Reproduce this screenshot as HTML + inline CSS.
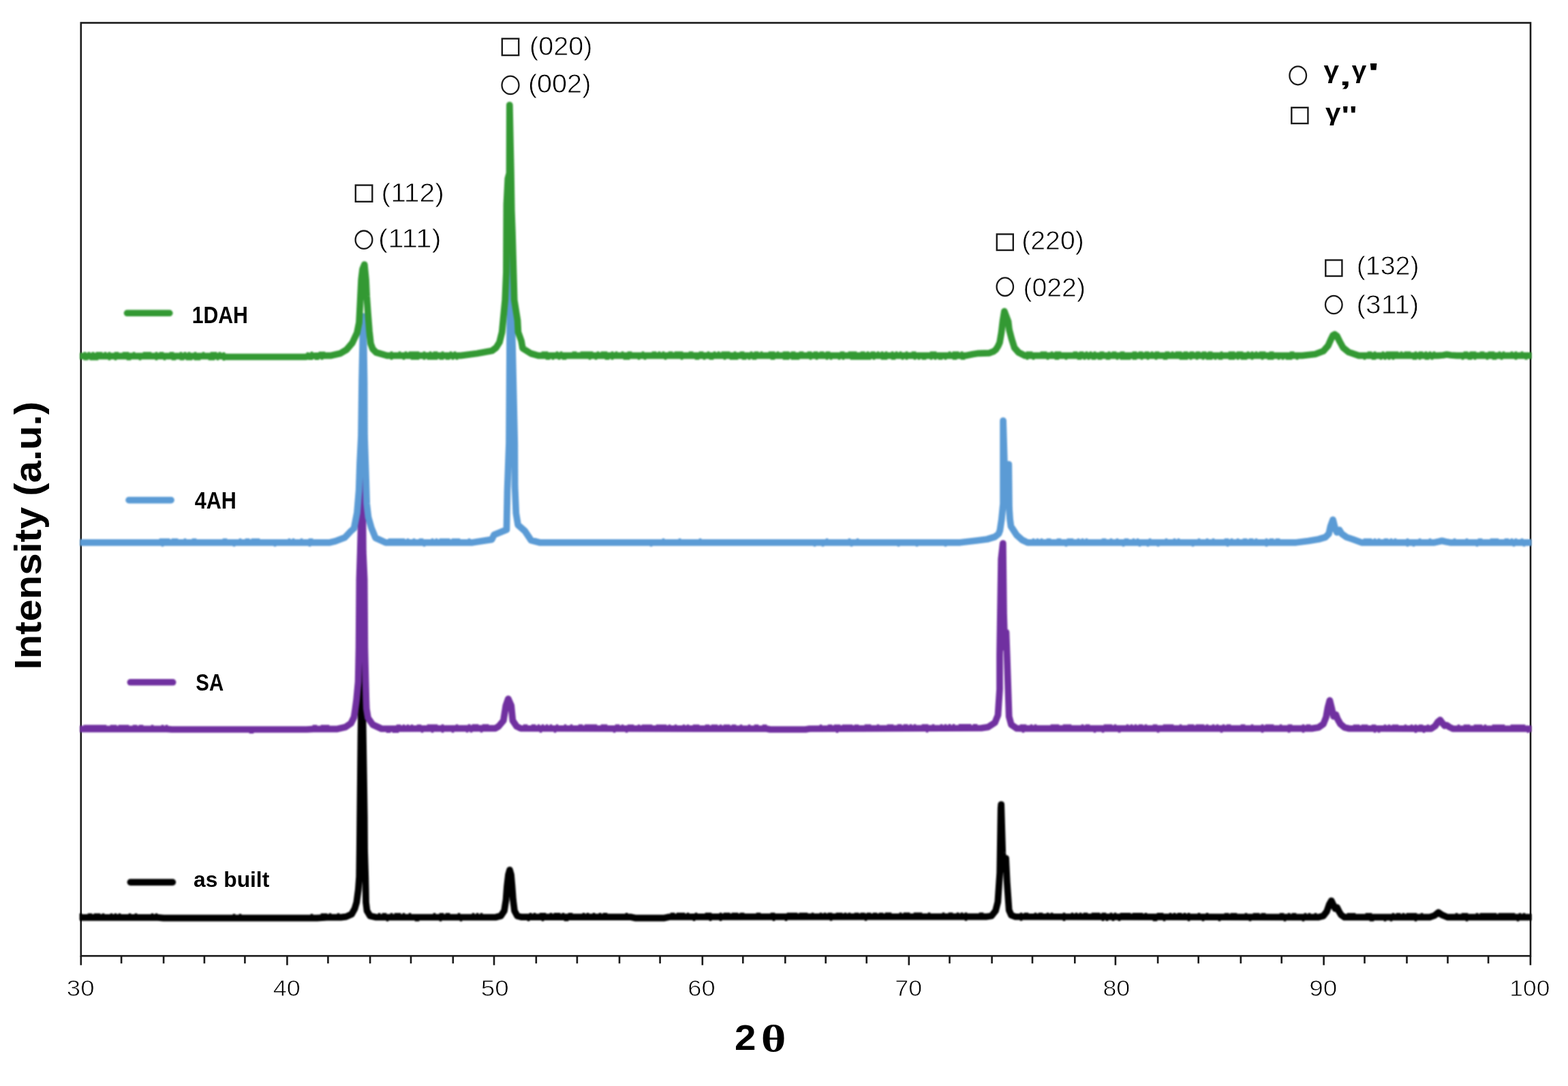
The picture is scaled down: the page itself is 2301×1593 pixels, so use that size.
<!DOCTYPE html>
<html lang="en">
<head>
<meta charset="utf-8">
<title>XRD patterns</title>
<style>
html,body{margin:0;padding:0;background:#fff;}
body{width:2301px;height:1593px;overflow:hidden;}
svg{display:block;}
text{fill:#000;}
</style>
</head>
<body>
<svg xmlns="http://www.w3.org/2000/svg" width="2301" height="1593" viewBox="0 0 2301 1593">
<defs><filter id="soft" color-interpolation-filters="sRGB" x="0" y="0" width="2301" height="1593" filterUnits="userSpaceOnUse"><feGaussianBlur stdDeviation="0.80"/></filter></defs>
<rect x="0" y="0" width="2301" height="1593" fill="#ffffff"/>
<g stroke="#1a1a1a" stroke-width="2.6" fill="none">
<rect x="118.8" y="33.5" width="2127.2" height="1368.7"/>
<path d="M118.8 1402.2 V1415.8 M178.1 1402.2 V1413.2 M240.1 1402.2 V1413.2 M299.9 1402.2 V1413.2 M359.4 1402.2 V1413.2 M421.4 1402.2 V1415.8 M481.4 1402.2 V1413.2 M543.1 1402.2 V1413.2 M603.0 1402.2 V1413.2 M664.8 1402.2 V1413.2 M725.0 1402.2 V1415.8 M786.8 1402.2 V1413.2 M846.9 1402.2 V1413.2 M909.0 1402.2 V1413.2 M968.6 1402.2 V1413.2 M1030.8 1402.2 V1415.8 M1090.3 1402.2 V1413.2 M1152.3 1402.2 V1413.2 M1211.7 1402.2 V1413.2 M1271.7 1402.2 V1413.2 M1333.8 1402.2 V1415.8 M1393.5 1402.2 V1413.2 M1455.6 1402.2 V1413.2 M1515.0 1402.2 V1413.2 M1577.3 1402.2 V1413.2 M1636.9 1402.2 V1415.8 M1699.1 1402.2 V1413.2 M1758.7 1402.2 V1413.2 M1820.8 1402.2 V1413.2 M1880.7 1402.2 V1413.2 M1942.6 1402.2 V1415.8 M2002.5 1402.2 V1413.2 M2064.5 1402.2 V1413.2 M2124.5 1402.2 V1413.2 M2184.1 1402.2 V1413.2 M2245.9 1402.2 V1415.8"/>
</g>
<g fill="none" stroke-width="9.7" stroke-linejoin="round" stroke-linecap="butt" filter="url(#soft)">
<path stroke="#000000" d="M117.2 1345.8 L232.0 1345.8 L240.0 1346.6 L465.0 1346.6 L480.0 1345.6 L500.0 1345.6 L508.0 1344.6 L516.0 1341.0 L520.5 1333.0 L523.3 1323.7 L525.8 1305.0 L527.2 1286.0 L527.7 1248.0 L528.2 1200.0 L528.9 1135.0 L529.5 1079.0 L531.2 972.0 L532.9 1079.0 L533.8 1135.0 L534.8 1200.0 L535.1 1248.0 L536.3 1286.0 L536.7 1305.0 L537.0 1323.7 L538.5 1336.0 L543.0 1343.5 L552.0 1345.5 L728.0 1345.3 L735.0 1343.5 L740.0 1336.0 L742.5 1320.0 L744.0 1300.0 L746.0 1283.0 L748.0 1276.0 L750.0 1283.0 L751.5 1300.0 L753.0 1320.0 L755.0 1336.0 L759.0 1343.5 L765.0 1345.2 L925.0 1345.0 L932.0 1346.6 L975.0 1346.6 L982.0 1345.0 L1400.0 1344.6 L1447.0 1344.7 L1455.0 1343.5 L1461.0 1336.0 L1464.3 1323.0 L1467.2 1280.0 L1468.7 1186.0 L1469.2 1180.0 L1471.3 1251.0 L1473.0 1275.0 L1476.1 1259.0 L1477.8 1294.0 L1480.7 1335.0 L1484.0 1342.5 L1490.0 1344.7 L1900.0 1345.4 L1935.0 1345.4 L1942.0 1343.5 L1947.0 1337.0 L1950.5 1327.0 L1953.8 1321.3 L1957.0 1328.0 L1959.5 1333.0 L1962.0 1331.0 L1965.0 1337.0 L1968.0 1342.0 L1973.0 1345.4 L2098.0 1345.4 L2105.0 1343.0 L2110.9 1338.4 L2116.0 1342.0 L2124.0 1345.4 L2247.5 1345.4"/>
<path stroke="#000000" d="M116.7 1344.5H120.3M128.7 1344.5H135.3M137.7 1344.5H147.3M149.7 1344.5H153.3M161.7 1344.5H165.3M167.7 1344.5H171.3M173.7 1344.5H177.3M188.7 1344.5H192.3M197.7 1344.5H201.3M221.7 1344.5H225.3M227.7 1344.5H231.3M341.7 1345.3H345.3M350.7 1345.3H354.3M455.7 1345.3H459.3M470.7 1344.6H480.3M482.7 1344.3H486.3M494.7 1344.3H498.3M554.7 1344.2H558.3M560.7 1344.2H567.3M572.7 1344.2H576.3M578.7 1344.2H588.3M590.7 1344.2H594.3M599.7 1344.2H603.3M635.7 1344.1H639.3M644.7 1344.1H651.3M653.7 1344.1H660.3M671.7 1344.1H675.3M692.7 1344.1H696.3M698.7 1344.1H702.3M704.7 1344.0H708.3M776.7 1343.9H780.3M782.7 1343.9H786.3M791.7 1343.9H801.3M806.7 1343.9H810.3M812.7 1343.9H822.3M824.7 1343.9H828.3M833.7 1343.9H840.3M854.7 1343.8H858.3M860.7 1343.8H864.3M869.7 1343.8H873.3M878.7 1343.8H882.3M884.7 1343.8H891.3M917.7 1343.8H921.3M983.7 1343.7H990.3M992.7 1343.7H1005.3M1007.7 1343.7H1011.3M1019.7 1343.7H1023.3M1034.7 1343.7H1044.3M1055.7 1343.7H1059.3M1061.7 1343.7H1071.3M1073.7 1343.7H1083.3M1085.7 1343.6H1092.3M1109.7 1343.6H1116.3M1130.7 1343.6H1137.3M1154.7 1343.6H1170.3M1172.7 1343.6H1185.3M1190.7 1343.5H1194.3M1202.7 1343.5H1206.3M1208.7 1343.5H1212.3M1214.7 1343.5H1221.3M1226.7 1343.5H1236.3M1238.7 1343.5H1242.3M1244.7 1343.5H1248.3M1253.7 1343.5H1260.3M1262.7 1343.5H1269.3M1271.7 1343.5H1278.3M1280.7 1343.5H1287.3M1289.7 1343.5H1296.3M1298.7 1343.4H1308.3M1319.7 1343.4H1323.3M1325.7 1343.4H1335.3M1340.7 1343.4H1353.3M1361.7 1343.4H1365.3M1382.7 1343.4H1386.3M1391.7 1343.4H1398.3M1403.7 1343.4H1407.3M1409.7 1343.4H1413.3M1415.7 1343.4H1419.3M1436.7 1343.4H1443.3M1496.7 1343.5H1500.3M1502.7 1343.5H1509.3M1517.7 1343.5H1521.3M1523.7 1343.6H1530.3M1535.7 1343.6H1539.3M1541.7 1343.6H1545.3M1559.7 1343.6H1563.3M1571.7 1343.6H1575.3M1577.7 1343.6H1581.3M1583.7 1343.6H1587.3M1589.7 1343.7H1596.3M1601.7 1343.7H1614.3M1616.7 1343.7H1623.3M1628.7 1343.7H1632.3M1634.7 1343.7H1638.3M1643.7 1343.8H1659.3M1661.7 1343.8H1677.3M1679.7 1343.8H1683.3M1697.7 1343.8H1707.3M1715.7 1343.9H1719.3M1721.7 1343.9H1725.3M1727.7 1343.9H1734.3M1736.7 1343.9H1740.3M1742.7 1343.9H1746.3M1757.7 1343.9H1761.3M1769.7 1343.9H1773.3M1796.7 1344.0H1803.3M1805.7 1344.0H1815.3M1826.7 1344.0H1830.3M1838.7 1344.1H1848.3M1850.7 1344.1H1857.3M1877.7 1344.1H1884.3M1889.7 1344.1H1893.3M1895.7 1344.1H1902.3M1913.7 1344.2H1917.3M1919.7 1344.2H1923.3M1928.7 1344.2H1932.3M1976.7 1344.2H1989.3M2003.7 1344.2H2013.3M2042.7 1344.2H2046.3M2048.7 1344.2H2055.3M2057.7 1344.2H2061.3M2063.7 1344.2H2079.3M2084.7 1344.2H2088.3M2135.7 1344.2H2139.3M2144.7 1344.2H2154.3M2165.7 1344.2H2169.3M2171.7 1344.2H2196.3M2198.7 1344.2H2223.3M2228.7 1344.2H2232.3M2234.7 1344.2H2238.3M566.7 1346.7H570.3M608.7 1346.7H615.3M644.7 1346.6H648.3M674.7 1346.6H678.3M773.7 1346.5H777.3M794.7 1346.4H798.3M827.7 1346.4H834.3M1016.7 1346.2H1020.3M1040.7 1346.2H1044.3M1055.7 1346.2H1059.3M1133.7 1346.1H1137.3M1151.7 1346.1H1155.3M1217.7 1346.0H1221.3M1268.7 1346.0H1272.3M1415.7 1345.9H1419.3M1496.7 1346.0H1500.3M1559.7 1346.1H1563.3M1616.7 1346.2H1620.3M1622.7 1346.2H1626.3M1631.7 1346.2H1635.3M1640.7 1346.2H1644.3M1691.7 1346.3H1698.3M1706.7 1346.3H1710.3M1742.7 1346.4H1746.3M1763.7 1346.4H1767.3M1787.7 1346.5H1791.3M1832.7 1346.5H1836.3M1883.7 1346.6H1887.3M1910.7 1346.7H1914.3M2009.7 1346.7H2016.3M2030.7 1346.7H2034.3M2039.7 1346.7H2043.3M2075.7 1346.7H2079.3M2150.7 1346.7H2154.3M2225.7 1346.7H2229.3"/>
<path stroke="#7030a0" d="M117.2 1069.4 L245.0 1069.4 L252.0 1070.0 L450.0 1070.0 L460.0 1069.4 L495.0 1069.3 L507.0 1066.5 L515.0 1061.0 L519.5 1052.0 L521.4 1039.5 L523.2 1026.0 L525.6 1000.0 L526.6 950.0 L527.4 850.0 L528.7 810.0 L531.8 693.0 L532.9 810.0 L534.7 850.0 L535.4 950.0 L536.6 1000.0 L537.3 1026.0 L537.8 1039.5 L540.0 1053.0 L547.0 1063.0 L560.0 1069.0 L700.0 1068.4 L726.9 1068.4 L731.7 1065.5 L738.8 1057.0 L742.3 1035.0 L745.8 1025.0 L750.2 1035.0 L752.4 1057.0 L758.1 1065.5 L764.2 1068.5 L1125.0 1069.0 L1130.0 1070.0 L1182.0 1070.0 L1188.0 1069.0 L1440.0 1068.0 L1450.0 1066.5 L1460.0 1060.0 L1464.5 1049.0 L1467.0 1011.0 L1467.0 960.0 L1469.2 820.0 L1471.8 797.0 L1473.0 900.0 L1474.5 950.0 L1476.5 927.5 L1477.7 960.0 L1480.7 1051.0 L1484.0 1063.0 L1492.0 1068.5 L1500.0 1068.6 L1900.0 1068.6 L1925.0 1068.6 L1935.0 1067.0 L1942.0 1062.0 L1946.0 1052.0 L1948.5 1038.0 L1951.4 1027.4 L1954.5 1040.0 L1957.0 1051.0 L1960.4 1048.3 L1963.0 1055.0 L1967.0 1062.0 L1973.0 1067.0 L1980.0 1068.7 L2100.0 1068.8 L2106.0 1065.0 L2110.0 1059.0 L2113.4 1056.1 L2117.0 1061.0 L2120.0 1064.5 L2123.0 1063.8 L2127.0 1066.5 L2132.0 1068.9 L2247.5 1069.0"/>
<path stroke="#7030a0" d="M122.7 1068.2H156.3M161.7 1068.2H171.3M173.7 1068.2H189.3M194.7 1068.2H201.3M203.7 1068.2H210.3M221.7 1068.2H225.3M236.7 1068.2H240.3M242.7 1068.2H246.3M458.7 1068.1H465.3M470.7 1068.1H483.3M581.7 1067.6H588.3M590.7 1067.6H594.3M596.7 1067.6H600.3M602.7 1067.5H606.3M611.7 1067.5H618.3M626.7 1067.4H642.3M647.7 1067.4H651.3M668.7 1067.3H672.3M686.7 1067.2H690.3M692.7 1067.2H702.3M707.7 1067.2H717.3M767.7 1067.3H774.3M779.7 1067.3H786.3M788.7 1067.3H792.3M794.7 1067.3H798.3M800.7 1067.3H804.3M806.7 1067.3H810.3M815.7 1067.3H819.3M827.7 1067.3H831.3M836.7 1067.3H840.3M848.7 1067.4H855.3M857.7 1067.4H876.3M881.7 1067.4H891.3M902.7 1067.4H909.3M911.7 1067.5H915.3M920.7 1067.5H930.3M935.7 1067.5H939.3M941.7 1067.5H957.3M962.7 1067.5H978.3M980.7 1067.5H984.3M989.7 1067.6H993.3M1001.7 1067.6H1005.3M1007.7 1067.6H1011.3M1016.7 1067.6H1026.3M1034.7 1067.6H1041.3M1043.7 1067.6H1053.3M1055.7 1067.7H1059.3M1061.7 1067.7H1071.3M1073.7 1067.7H1080.3M1085.7 1067.7H1089.3M1097.7 1067.7H1101.3M1106.7 1067.7H1113.3M1118.7 1067.7H1125.3M1202.7 1067.7H1206.3M1214.7 1067.6H1221.3M1223.7 1067.6H1233.3M1235.7 1067.5H1251.3M1253.7 1067.5H1260.3M1268.7 1067.4H1278.3M1286.7 1067.4H1290.3M1301.7 1067.3H1311.3M1316.7 1067.2H1323.3M1325.7 1067.2H1332.3M1334.7 1067.2H1338.3M1340.7 1067.1H1344.3M1352.7 1067.1H1362.3M1367.7 1067.0H1371.3M1379.7 1067.0H1383.3M1385.7 1067.0H1389.3M1391.7 1066.9H1395.3M1397.7 1066.9H1401.3M1406.7 1066.8H1425.3M1427.7 1066.8H1434.3M1496.7 1067.3H1506.3M1511.7 1067.3H1515.3M1517.7 1067.3H1521.3M1541.7 1067.3H1554.3M1559.7 1067.3H1572.3M1586.7 1067.3H1590.3M1592.7 1067.3H1599.3M1619.7 1067.3H1632.3M1634.7 1067.3H1638.3M1652.7 1067.3H1656.3M1658.7 1067.3H1662.3M1664.7 1067.3H1668.3M1670.7 1067.3H1677.3M1679.7 1067.3H1683.3M1691.7 1067.3H1698.3M1706.7 1067.3H1722.3M1730.7 1067.3H1734.3M1742.7 1067.3H1752.3M1754.7 1067.3H1767.3M1769.7 1067.3H1773.3M1778.7 1067.3H1782.3M1784.7 1067.3H1788.3M1793.7 1067.3H1797.3M1799.7 1067.3H1806.3M1820.7 1067.3H1827.3M1835.7 1067.3H1839.3M1850.7 1067.3H1854.3M1856.7 1067.3H1869.3M1877.7 1067.3H1881.3M1889.7 1067.3H1896.3M1910.7 1067.4H1914.3M1916.7 1067.4H1923.3M1985.7 1067.5H1995.3M1997.7 1067.5H2007.3M2012.7 1067.5H2019.3M2030.7 1067.5H2034.3M2036.7 1067.5H2040.3M2042.7 1067.5H2052.3M2060.7 1067.5H2064.3M2069.7 1067.5H2073.3M2075.7 1067.6H2079.3M2081.7 1067.6H2088.3M2093.7 1067.6H2097.3M2138.7 1067.6H2142.3M2147.7 1067.6H2157.3M2162.7 1067.7H2175.3M2177.7 1067.7H2181.3M2189.7 1067.7H2208.3M2216.7 1067.7H2238.3M365.7 1071.2H372.3M566.7 1070.2H573.3M575.7 1070.1H585.3M617.7 1070.0H621.3M632.7 1069.9H636.3M647.7 1069.9H651.3M662.7 1069.8H666.3M683.7 1069.7H687.3M689.7 1069.7H693.3M704.7 1069.7H708.3M791.7 1069.8H795.3M812.7 1069.8H816.3M899.7 1069.9H903.3M917.7 1070.0H921.3M1226.7 1070.1H1230.3M1358.7 1069.6H1362.3M1499.7 1069.8H1503.3M1604.7 1069.8H1608.3M1616.7 1069.8H1620.3M1640.7 1069.8H1644.3M1697.7 1069.8H1701.3M1790.7 1069.8H1794.3M1850.7 1069.8H1854.3M1889.7 1069.8H1893.3M1910.7 1069.9H1914.3M2015.7 1070.0H2019.3M2021.7 1070.0H2025.3M2075.7 1070.1H2079.3M2087.7 1070.1H2091.3M2240.7 1070.2H2244.3"/>
<path stroke="#5b9bd5" d="M117.2 795.8 L484.0 795.8 L492.3 793.8 L506.0 788.5 L515.0 779.0 L519.5 775.0 L524.0 752.0 L526.7 719.0 L528.0 679.5 L530.0 640.0 L531.0 560.0 L533.0 464.0 L534.6 560.0 L535.0 640.0 L537.0 699.0 L538.2 739.0 L540.5 758.6 L545.0 774.4 L551.0 789.0 L566.0 795.8 L693.4 795.8 L721.7 791.4 L725.0 784.6 L743.4 777.0 L744.5 719.0 L747.0 650.0 L748.0 500.0 L749.5 345.0 L751.9 500.0 L755.3 650.0 L755.6 713.4 L757.3 753.0 L760.1 770.0 L770.3 779.0 L779.3 792.5 L791.8 795.8 L1409.0 795.8 L1432.8 793.0 L1448.5 791.0 L1460.0 787.5 L1465.5 783.0 L1467.4 778.0 L1469.8 762.0 L1471.3 747.0 L1472.1 739.0 L1472.1 617.0 L1475.5 730.0 L1480.3 681.0 L1481.0 745.0 L1482.1 762.0 L1483.5 772.0 L1492.0 785.0 L1500.0 792.0 L1508.0 795.8 L1902.0 795.8 L1920.0 793.5 L1935.0 791.0 L1945.0 788.0 L1950.0 783.0 L1952.5 772.0 L1956.0 762.3 L1959.5 776.0 L1962.0 781.0 L1965.6 777.4 L1969.0 783.0 L1976.0 788.0 L1985.0 791.0 L1998.0 795.8 L2105.0 795.8 L2112.0 794.3 L2116.0 793.3 L2121.0 794.5 L2128.0 795.8 L2247.5 795.8"/>
<path stroke="#5b9bd5" d="M233.7 794.5H249.3M251.7 794.5H261.3M269.7 794.5H273.3M281.7 794.5H288.3M326.7 794.5H333.3M350.7 794.5H354.3M359.7 794.5H366.3M368.7 794.5H381.3M422.7 794.5H426.3M428.7 794.5H432.3M440.7 794.5H444.3M452.7 794.5H459.3M569.7 794.5H594.3M596.7 794.5H600.3M605.7 794.5H609.3M614.7 794.5H621.3M632.7 794.5H636.3M638.7 794.5H642.3M644.7 794.5H660.3M662.7 794.5H675.3M686.7 794.5H690.3M971.7 794.5H975.3M995.7 794.5H999.3M1025.7 794.5H1029.3M1211.7 794.5H1215.3M1244.7 794.5H1248.3M1256.7 794.5H1260.3M1514.7 794.5H1518.3M1520.7 794.5H1524.3M1526.7 794.5H1530.3M1535.7 794.5H1542.3M1550.7 794.5H1557.3M1565.7 794.5H1575.3M1580.7 794.5H1584.3M1586.7 794.5H1590.3M1592.7 794.5H1596.3M1616.7 794.5H1623.3M1628.7 794.5H1632.3M1637.7 794.5H1641.3M1649.7 794.5H1656.3M1661.7 794.5H1665.3M1667.7 794.5H1671.3M1685.7 794.5H1689.3M1709.7 794.5H1713.3M1721.7 794.5H1725.3M1727.7 794.5H1731.3M1757.7 794.5H1761.3M1769.7 794.5H1773.3M1778.7 794.5H1782.3M1796.7 794.5H1803.3M1805.7 794.5H1809.3M1814.7 794.5H1818.3M1823.7 794.5H1830.3M1832.7 794.5H1839.3M1841.7 794.5H1845.3M1856.7 794.5H1860.3M1862.7 794.5H1869.3M1871.7 794.5H1878.3M2000.7 794.5H2013.3M2015.7 794.5H2019.3M2021.7 794.5H2025.3M2030.7 794.5H2037.3M2039.7 794.5H2043.3M2045.7 794.5H2049.3M2063.7 794.5H2067.3M2081.7 794.5H2085.3M2096.7 794.5H2100.3M2132.7 794.5H2136.3M2150.7 794.5H2154.3M2168.7 794.5H2175.3M2186.7 794.5H2199.3M2207.7 794.5H2214.3M2216.7 794.5H2220.3M2222.7 794.5H2226.3M2231.7 794.5H2235.3M236.7 797.0H240.3M341.7 797.0H345.3M401.7 797.0H405.3M452.7 797.0H456.3M620.7 797.0H624.3M953.7 797.0H957.3M1193.7 797.0H1197.3M1205.7 797.0H1209.3M1247.7 797.0H1251.3M1316.7 797.0H1320.3M1343.7 797.0H1347.3M1385.7 797.0H1389.3M1562.7 797.0H1566.3M1646.7 797.0H1650.3M1670.7 797.0H1674.3M1682.7 797.0H1686.3M1697.7 797.0H1701.3M1748.7 797.0H1752.3M1799.7 797.0H1803.3M1856.7 797.0H1860.3M2063.7 797.0H2067.3M2072.7 797.0H2076.3M2165.7 797.0H2169.3M2219.7 797.0H2223.3M2234.7 797.0H2238.3"/>
<path stroke="#339933" d="M117.2 522.4 L325.0 522.4 L332.0 523.5 L448.0 523.5 L456.0 522.0 L480.0 521.6 L486.0 521.6 L499.0 518.6 L508.5 513.0 L517.0 503.0 L524.0 488.0 L527.0 473.0 L528.3 448.0 L530.2 410.0 L532.0 395.0 L534.8 388.0 L537.0 410.0 L538.2 435.0 L540.0 460.0 L542.0 485.5 L544.0 504.0 L547.0 512.0 L552.0 517.0 L568.0 521.6 L676.0 521.6 L700.0 518.5 L722.0 514.5 L728.0 510.0 L733.0 502.0 L736.7 487.0 L738.3 470.0 L741.2 440.0 L742.9 400.0 L743.4 300.0 L745.3 262.0 L747.5 254.0 L747.8 154.0 L749.9 253.0 L750.8 310.0 L751.9 340.0 L753.6 400.0 L754.7 440.0 L759.5 470.0 L760.4 487.0 L765.0 500.0 L767.0 511.0 L779.0 518.5 L790.0 521.6 L1418.0 521.6 L1428.0 519.5 L1436.0 518.3 L1452.0 517.8 L1458.0 515.5 L1461.5 512.7 L1464.5 508.0 L1467.0 502.5 L1469.5 488.0 L1471.6 470.5 L1473.9 456.6 L1479.6 471.7 L1481.0 483.5 L1484.6 497.3 L1488.6 510.0 L1494.5 516.8 L1504.0 521.6 L1911.0 521.6 L1930.0 519.5 L1942.0 515.0 L1949.0 507.0 L1953.0 498.0 L1956.0 492.0 L1958.6 490.5 L1962.0 493.0 L1966.0 501.0 L1971.0 510.0 L1979.0 516.5 L1994.0 521.6 L2110.0 521.6 L2118.0 521.0 L2123.0 520.0 L2129.0 521.0 L2138.0 521.6 L2247.5 521.6"/>
<path stroke="#339933" d="M122.7 521.1H126.3M128.7 521.1H132.3M134.7 521.1H138.3M140.7 521.1H150.3M152.7 521.1H156.3M158.7 521.1H162.3M167.7 521.1H174.3M179.7 521.1H189.3M194.7 521.1H198.3M209.7 521.1H222.3M227.7 521.1H231.3M233.7 521.1H240.3M248.7 521.1H255.3M263.7 521.1H267.3M269.7 521.1H273.3M275.7 521.1H279.3M284.7 521.1H288.3M296.7 521.1H300.3M308.7 521.1H318.3M320.7 521.1H324.3M326.7 521.7H330.3M449.7 521.6H453.3M455.7 520.7H459.3M467.7 520.5H477.3M572.7 520.4H576.3M584.7 520.4H588.3M593.7 520.4H597.3M599.7 520.4H615.3M620.7 520.4H624.3M629.7 520.4H633.3M635.7 520.4H642.3M647.7 520.4H651.3M659.7 520.4H663.3M665.7 520.4H669.3M794.7 520.4H804.3M815.7 520.4H819.3M821.7 520.4H825.3M839.7 520.4H846.3M851.7 520.4H870.3M875.7 520.4H879.3M881.7 520.4H891.3M896.7 520.4H900.3M902.7 520.4H906.3M911.7 520.4H915.3M920.7 520.4H927.3M941.7 520.4H945.3M956.7 520.4H963.3M965.7 520.4H969.3M971.7 520.4H975.3M980.7 520.4H987.3M989.7 520.4H1002.3M1010.7 520.4H1017.3M1025.7 520.4H1032.3M1037.7 520.4H1041.3M1046.7 520.4H1050.3M1052.7 520.4H1056.3M1058.7 520.4H1071.3M1076.7 520.4H1080.3M1085.7 520.4H1092.3M1100.7 520.4H1104.3M1106.7 520.4H1113.3M1115.7 520.4H1119.3M1127.7 520.4H1137.3M1139.7 520.4H1143.3M1148.7 520.4H1158.3M1160.7 520.4H1167.3M1172.7 520.4H1179.3M1184.7 520.4H1191.3M1193.7 520.4H1200.3M1202.7 520.4H1209.3M1211.7 520.4H1218.3M1232.7 520.4H1239.3M1244.7 520.4H1257.3M1262.7 520.4H1269.3M1271.7 520.4H1275.3M1277.7 520.4H1284.3M1286.7 520.4H1290.3M1292.7 520.4H1296.3M1298.7 520.4H1302.3M1307.7 520.4H1311.3M1313.7 520.4H1317.3M1319.7 520.4H1323.3M1328.7 520.4H1332.3M1337.7 520.4H1344.3M1364.7 520.4H1374.3M1391.7 520.4H1395.3M1397.7 520.4H1407.3M1409.7 520.4H1413.3M1505.7 520.4H1515.3M1526.7 520.4H1536.3M1541.7 520.4H1545.3M1547.7 520.4H1557.3M1574.7 520.4H1581.3M1583.7 520.4H1590.3M1592.7 520.4H1596.3M1598.7 520.4H1602.3M1604.7 520.4H1608.3M1613.7 520.4H1620.3M1625.7 520.4H1629.3M1631.7 520.4H1638.3M1643.7 520.4H1650.3M1661.7 520.4H1668.3M1670.7 520.4H1677.3M1679.7 520.4H1686.3M1688.7 520.4H1692.3M1694.7 520.4H1701.3M1709.7 520.4H1716.3M1718.7 520.4H1722.3M1724.7 520.4H1734.3M1736.7 520.4H1743.3M1745.7 520.4H1752.3M1754.7 520.4H1761.3M1763.7 520.4H1770.3M1772.7 520.4H1779.3M1790.7 520.4H1794.3M1802.7 520.4H1812.3M1814.7 520.4H1824.3M1829.7 520.4H1833.3M1835.7 520.4H1839.3M1841.7 520.4H1845.3M1847.7 520.4H1857.3M1862.7 520.4H1869.3M1892.7 520.4H1899.3M2006.7 520.4H2013.3M2015.7 520.4H2019.3M2027.7 520.4H2031.3M2033.7 520.4H2052.3M2054.7 520.4H2058.3M2060.7 520.4H2070.3M2075.7 520.4H2079.3M2081.7 520.4H2088.3M2090.7 520.4H2094.3M2096.7 520.4H2100.3M2102.7 520.4H2106.3M2147.7 520.4H2154.3M2156.7 520.4H2166.3M2171.7 520.4H2178.3M2183.7 520.4H2193.3M2198.7 520.4H2202.3M2204.7 520.4H2208.3M2216.7 520.4H2220.3M2222.7 520.4H2226.3M2231.7 520.4H2235.3M122.7 523.6H129.3M131.7 523.6H144.3M158.7 523.6H162.3M167.7 523.6H171.3M185.7 523.6H192.3M203.7 523.6H207.3M227.7 523.6H231.3M239.7 523.6H243.3M251.7 523.6H258.3M263.7 523.6H270.3M272.7 523.6H282.3M284.7 523.6H294.3M305.7 523.6H315.3M317.7 523.6H321.3M326.7 524.2H330.3M452.7 523.2H459.3M461.7 523.1H468.3M470.7 523.0H474.3M572.7 522.9H576.3M590.7 522.9H594.3M602.7 522.9H615.3M620.7 522.9H624.3M626.7 522.9H642.3M644.7 522.9H651.3M653.7 522.9H660.3M662.7 522.9H666.3M668.7 522.9H672.3M800.7 522.9H807.3M809.7 522.9H813.3M818.7 522.9H822.3M824.7 522.9H831.3M863.7 522.9H867.3M872.7 522.9H876.3M887.7 522.9H894.3M896.7 522.9H900.3M914.7 522.9H924.3M935.7 522.9H939.3M944.7 522.9H948.3M974.7 522.9H978.3M998.7 522.9H1002.3M1019.7 522.9H1026.3M1031.7 522.9H1035.3M1040.7 522.9H1047.3M1061.7 522.9H1065.3M1070.7 522.9H1083.3M1088.7 522.9H1095.3M1097.7 522.9H1101.3M1103.7 522.9H1110.3M1130.7 522.9H1137.3M1148.7 522.9H1158.3M1160.7 522.9H1173.3M1187.7 522.9H1191.3M1196.7 522.9H1200.3M1211.7 522.9H1215.3M1217.7 522.9H1221.3M1229.7 522.9H1233.3M1235.7 522.9H1239.3M1247.7 522.9H1278.3M1280.7 522.9H1284.3M1292.7 522.9H1302.3M1307.7 522.9H1314.3M1322.7 522.9H1326.3M1328.7 522.9H1332.3M1340.7 522.9H1344.3M1346.7 522.9H1350.3M1352.7 522.9H1359.3M1364.7 522.9H1368.3M1370.7 522.9H1374.3M1376.7 522.9H1383.3M1385.7 522.9H1389.3M1397.7 522.9H1404.3M1409.7 522.9H1416.3M1505.7 522.9H1509.3M1514.7 522.9H1518.3M1535.7 522.9H1539.3M1547.7 522.9H1554.3M1562.7 522.9H1566.3M1580.7 522.9H1587.3M1589.7 522.9H1593.3M1595.7 522.9H1599.3M1601.7 522.9H1608.3M1610.7 522.9H1617.3M1622.7 522.9H1629.3M1637.7 522.9H1641.3M1643.7 522.9H1659.3M1661.7 522.9H1668.3M1673.7 522.9H1677.3M1682.7 522.9H1686.3M1694.7 522.9H1698.3M1706.7 522.9H1713.3M1730.7 522.9H1743.3M1745.7 522.9H1749.3M1754.7 522.9H1758.3M1763.7 522.9H1767.3M1769.7 522.9H1779.3M1781.7 522.9H1785.3M1787.7 522.9H1794.3M1802.7 522.9H1812.3M1814.7 522.9H1818.3M1820.7 522.9H1830.3M1835.7 522.9H1839.3M1850.7 522.9H1854.3M1859.7 522.9H1869.3M1874.7 522.9H1878.3M1880.7 522.9H1884.3M1886.7 522.9H1896.3M1901.7 522.9H1905.3M2000.7 522.9H2004.3M2012.7 522.9H2019.3M2024.7 522.9H2028.3M2030.7 522.9H2034.3M2036.7 522.9H2040.3M2042.7 522.9H2046.3M2072.7 522.9H2079.3M2081.7 522.9H2085.3M2090.7 522.9H2097.3M2099.7 522.9H2103.3M2144.7 522.9H2148.3M2153.7 522.9H2160.3M2162.7 522.9H2166.3M2180.7 522.9H2184.3M2189.7 522.9H2196.3M2201.7 522.9H2205.3M2222.7 522.9H2226.3M2237.7 522.9H2241.3"/>
</g>
<rect x="521.8" y="271.6" width="24.5" height="24.2" fill="none" stroke="#1a1a1a" stroke-width="2.4"/>
<ellipse cx="534.0" cy="351.7" rx="12.4" ry="13.2" fill="none" stroke="#1a1a1a" stroke-width="2.3"/>
<rect x="736.8" y="56.7" width="24.4" height="24.4" fill="none" stroke="#1a1a1a" stroke-width="2.4"/>
<ellipse cx="749.0" cy="124.9" rx="12.5" ry="13.3" fill="none" stroke="#1a1a1a" stroke-width="2.3"/>
<rect x="1462.8" y="343.5" width="24.0" height="23.5" fill="none" stroke="#1a1a1a" stroke-width="2.4"/>
<ellipse cx="1474.8" cy="420.7" rx="12.2" ry="13.3" fill="none" stroke="#1a1a1a" stroke-width="2.3"/>
<rect x="1945.3" y="381.5" width="24.1" height="23.5" fill="none" stroke="#1a1a1a" stroke-width="2.4"/>
<ellipse cx="1957.3" cy="447.0" rx="12.3" ry="13.2" fill="none" stroke="#1a1a1a" stroke-width="2.3"/>
<ellipse cx="1904.7" cy="110.8" rx="12.3" ry="13.5" fill="none" stroke="#1a1a1a" stroke-width="2.3"/>
<rect x="1895.3" y="157.8" width="24.1" height="23.3" fill="none" stroke="#1a1a1a" stroke-width="2.4"/>
<g filter="url(#soft)">
<line x1="186.5" y1="459.3" x2="248.8" y2="459.3" stroke="#339933" stroke-width="9.6" stroke-linecap="round"/>
<line x1="189.0" y1="733.6" x2="251.1" y2="733.6" stroke="#5b9bd5" stroke-width="9.6" stroke-linecap="round"/>
<line x1="191.3" y1="1000.8" x2="253.7" y2="1000.8" stroke="#7030a0" stroke-width="9.6" stroke-linecap="round"/>
<line x1="191.3" y1="1294.1" x2="253.4" y2="1294.1" stroke="#000000" stroke-width="9.6" stroke-linecap="round"/>
</g>
<g>
<text transform="translate(97.84 1461.17) scale(0.3662 0.3338)" font-size="100" font-weight="normal" font-family='"Liberation Sans", sans-serif' stroke="#fff" stroke-width="0.8" vector-effect="non-scaling-stroke">30</text>
<text transform="translate(400.80 1461.17) scale(0.3610 0.3338)" font-size="100" font-weight="normal" font-family='"Liberation Sans", sans-serif' stroke="#fff" stroke-width="0.8" vector-effect="non-scaling-stroke">40</text>
<text transform="translate(705.83 1461.17) scale(0.3671 0.3338)" font-size="100" font-weight="normal" font-family='"Liberation Sans", sans-serif' stroke="#fff" stroke-width="0.8" vector-effect="non-scaling-stroke">50</text>
<text transform="translate(1009.28 1461.17) scale(0.3639 0.3338)" font-size="100" font-weight="normal" font-family='"Liberation Sans", sans-serif' stroke="#fff" stroke-width="0.8" vector-effect="non-scaling-stroke">60</text>
<text transform="translate(1313.31 1461.17) scale(0.3571 0.3338)" font-size="100" font-weight="normal" font-family='"Liberation Sans", sans-serif' stroke="#fff" stroke-width="0.8" vector-effect="non-scaling-stroke">70</text>
<text transform="translate(1618.39 1461.17) scale(0.3583 0.3338)" font-size="100" font-weight="normal" font-family='"Liberation Sans", sans-serif' stroke="#fff" stroke-width="0.8" vector-effect="non-scaling-stroke">80</text>
<text transform="translate(1921.34 1461.17) scale(0.3680 0.3338)" font-size="100" font-weight="normal" font-family='"Liberation Sans", sans-serif' stroke="#fff" stroke-width="0.8" vector-effect="non-scaling-stroke">90</text>
<text transform="translate(2215.35 1461.17) scale(0.3537 0.3338)" font-size="100" font-weight="normal" font-family='"Liberation Sans", sans-serif' stroke="#fff" stroke-width="0.8" vector-effect="non-scaling-stroke">100</text>
<text><tspan x="1077.92" y="1540.10" font-size="52.00" font-weight="bold" font-family='"Liberation Sans", sans-serif' textLength="31.40" lengthAdjust="spacingAndGlyphs">2</tspan><tspan> </tspan><tspan x="1116.68" y="1542.25" font-size="55.07" font-weight="bold" font-family='"Liberation Serif", serif' textLength="36.78" lengthAdjust="spacingAndGlyphs">θ</tspan></text>
<text transform="translate(60.39 982.47) rotate(-90) scale(0.5805 0.5626)" font-size="100" font-weight="bold" font-family='"Liberation Sans", sans-serif'>Intensity (a.u.)</text>
<text transform="translate(281.63 473.70) scale(0.3023 0.3507)" font-size="100" font-weight="bold" font-family='"Liberation Sans", sans-serif'>1DAH</text>
<text transform="translate(285.74 745.80) scale(0.3057 0.3493)" font-size="100" font-weight="bold" font-family='"Liberation Sans", sans-serif'>4AH</text>
<text transform="translate(287.32 1012.55) scale(0.2940 0.3479)" font-size="100" font-weight="bold" font-family='"Liberation Sans", sans-serif'>SA</text>
<text transform="translate(284.05 1301.48) scale(0.3179 0.3211)" font-size="100" font-weight="bold" font-family='"Liberation Sans", sans-serif'>as built</text>
<text transform="translate(559.55 296.30) scale(0.4084 0.3904)" font-size="100" font-weight="normal" font-family='"Liberation Sans", sans-serif' stroke="#fff" stroke-width="0.8" vector-effect="non-scaling-stroke">(112)</text>
<text transform="translate(555.06 362.62) scale(0.4232 0.3893)" font-size="100" font-weight="normal" font-family='"Liberation Sans", sans-serif' stroke="#fff" stroke-width="0.8" vector-effect="non-scaling-stroke">(111)</text>
<text transform="translate(777.12 81.49) scale(0.3959 0.3957)" font-size="100" font-weight="normal" font-family='"Liberation Sans", sans-serif' stroke="#fff" stroke-width="0.8" vector-effect="non-scaling-stroke">(020)</text>
<text transform="translate(774.92 136.02) scale(0.3959 0.3893)" font-size="100" font-weight="normal" font-family='"Liberation Sans", sans-serif' stroke="#fff" stroke-width="0.8" vector-effect="non-scaling-stroke">(002)</text>
<text transform="translate(1499.25 365.50) scale(0.3919 0.3904)" font-size="100" font-weight="normal" font-family='"Liberation Sans", sans-serif' stroke="#fff" stroke-width="0.8" vector-effect="non-scaling-stroke">(220)</text>
<text transform="translate(1501.45 434.50) scale(0.3919 0.3904)" font-size="100" font-weight="normal" font-family='"Liberation Sans", sans-serif' stroke="#fff" stroke-width="0.8" vector-effect="non-scaling-stroke">(022)</text>
<text transform="translate(1990.64 403.30) scale(0.3937 0.3904)" font-size="100" font-weight="normal" font-family='"Liberation Sans", sans-serif' stroke="#fff" stroke-width="0.8" vector-effect="non-scaling-stroke">(132)</text>
<text transform="translate(1990.56 460.42) scale(0.4065 0.3893)" font-size="100" font-weight="normal" font-family='"Liberation Sans", sans-serif' stroke="#fff" stroke-width="0.8" vector-effect="non-scaling-stroke">(311)</text>
<text><tspan x="1942.40" y="115.19" font-size="35.78" font-weight="bold" font-family='"Liberation Sans", sans-serif' textLength="22.45" lengthAdjust="spacingAndGlyphs">γ</tspan><tspan x="1965.40" y="124.61" font-size="36.07" font-weight="bold" font-family='"Liberation Sans", sans-serif' textLength="17.47" lengthAdjust="spacingAndGlyphs">,</tspan><tspan x="1983.71" y="115.19" font-size="35.78" font-weight="bold" font-family='"Liberation Sans", sans-serif' textLength="21.53" lengthAdjust="spacingAndGlyphs">γ</tspan><tspan x="2007.02" y="120.47" font-size="38.80" font-weight="bold" font-family='"Liberation Sans", sans-serif' textLength="17.20" lengthAdjust="spacingAndGlyphs">&#x27;</tspan></text>
<text><tspan x="1945.00" y="177.16" font-size="35.92" font-weight="bold" font-family='"Liberation Sans", sans-serif' textLength="22.45" lengthAdjust="spacingAndGlyphs">γ</tspan><tspan x="1968.52" y="181.99" font-size="36.80" font-weight="bold" font-family='"Liberation Sans", sans-serif' textLength="23.14" lengthAdjust="spacingAndGlyphs">&#x27;&#x27;</tspan></text>
</g>
</svg>
</body>
</html>
